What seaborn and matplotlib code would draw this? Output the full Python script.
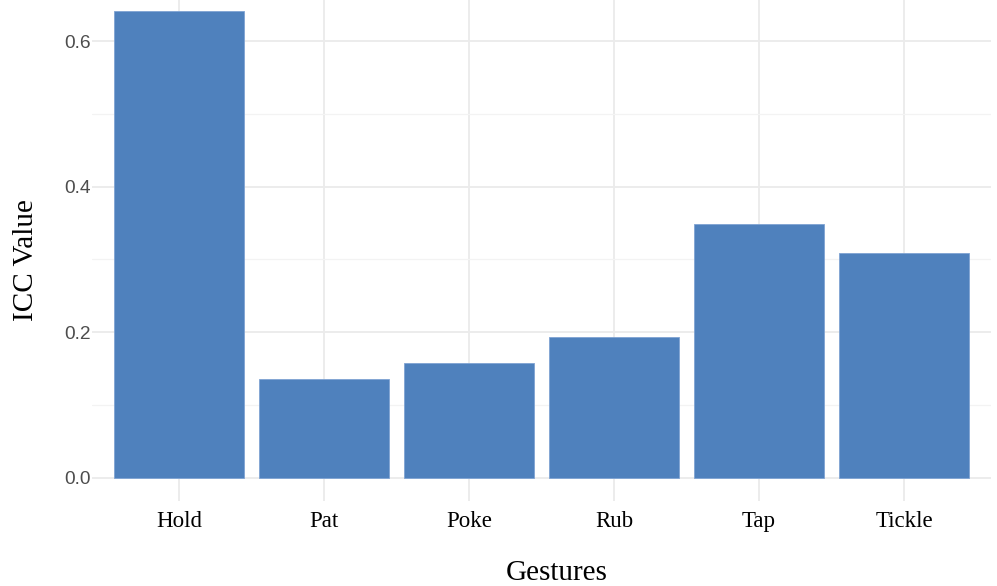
import matplotlib
matplotlib.use('Agg')
import matplotlib.pyplot as plt
from matplotlib.ticker import MultipleLocator
import pandas as pd
import seaborn as sns

# values
gestures = ['Hold', 'Pat', 'Poke', 'Rub', 'Tap', 'Tickle']
icc_values = [0.641, 0.136, 0.157, 0.193, 0.349, 0.308]

df = pd.DataFrame({'Gestures': gestures, 'ICC Value': icc_values})

sns.set_theme(style='white')
grid_col = '#EBEBEB'

fig = plt.figure(figsize=(9.97, 5.86), dpi=100)
ax = fig.add_axes([0.0923, 0.1454, 0.9017, 0.8752])

sns.barplot(data=df, x='Gestures', y='ICC Value', color='#4F81BD', saturation=1,
            width=0.9, ax=ax, zorder=3, edgecolor='#7FA3D3', linewidth=0.6)

ax.set_xlim(-0.6, 5.6)
ax.set_ylim(-0.032, 0.673)
ax.yaxis.set_major_locator(MultipleLocator(0.2))
ax.yaxis.set_minor_locator(MultipleLocator(0.1))
ax.set_yticks([0.0, 0.2, 0.4, 0.6])
ax.set_yticklabels(['0.0', '0.2', '0.4', '0.6'])

# ggplot-like minimal grid
ax.grid(axis='y', which='major', color=grid_col, linewidth=1.3, zorder=0)
ax.grid(axis='y', which='minor', color='#F3F3F3', linewidth=0.9, zorder=0)
ax.grid(axis='x', which='major', color=grid_col, linewidth=1.3, zorder=0)
ax.set_axisbelow(True)
for s in ax.spines.values():
    s.set_visible(False)

ax.tick_params(axis='y', which='both', length=0, pad=1, labelsize=13.8, labelcolor='#4D4D4D')
ax.tick_params(axis='x', which='both', length=0, pad=7, labelsize=16.5, labelcolor='black')
for lbl in ax.get_yticklabels():
    lbl.set_family('Liberation Sans')
for lbl in ax.get_xticklabels():
    lbl.set_family('Liberation Serif')

ax.set_xlabel('Gestures', family='Liberation Serif', fontsize=21, color='black')
ax.set_ylabel('ICC Value', family='Liberation Serif', fontsize=21, color='black')
ax.xaxis.set_label_coords(0.517, -0.116)
ax.yaxis.set_label_coords(-0.059, 0.4695)

fig.savefig('out.png', dpi=100)
